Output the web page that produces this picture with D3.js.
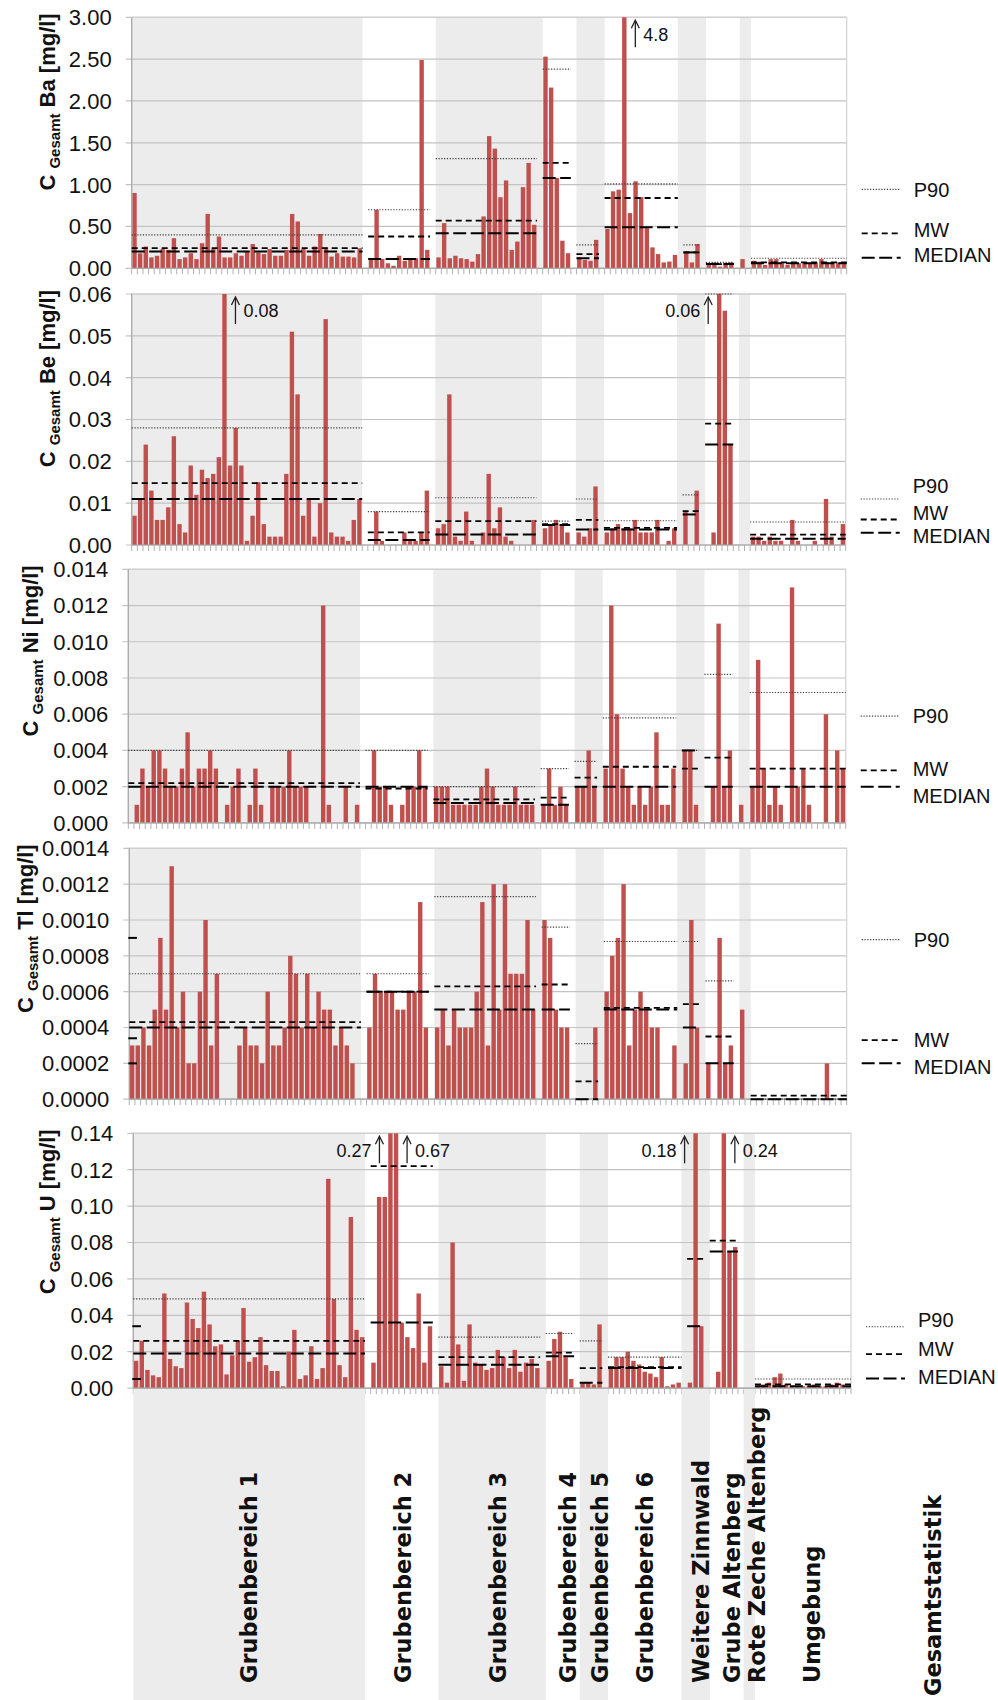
<!DOCTYPE html>
<html>
<head>
<meta charset="utf-8">
<script src="https://cdnjs.cloudflare.com/ajax/libs/d3/7.8.5/d3.min.js"></script>
<style>
  body { margin: 0; background: #fff; }
  svg { display: block; }
</style>
</head>
<body>
<svg id="chart" width="998" height="1700"></svg>
<script>
// sample slots along the x axis, grouped by mining area
const slotCount = 127;
const groupNames = ["Grubenbereich 1", "Grubenbereich 2", "Grubenbereich 3", "Grubenbereich 4", "Grubenbereich 5",
  "Grubenbereich 6", "Weitere Zinnwald", "Grube Altenberg", "Rote Zeche Altenberg", "Umgebung"];
const groupSizes = [41, 13, 19, 6, 5, 13, 5, 6, 2, 17];
const statFrom = [0, 42, 54, 73, 79, 84, 98, 102, null, 110];
const statTo = [40, 52, 71, 77, 82, 96, 100, 106, null, 126];
const overallLabel = "Gesamtstatistik";

// Ba
const baValues = [
  0.90, 0.18, 0.26, 0.13, 0.15, 0.23, 0.22, 0.36, 0.11, 0.13, 0.18, 0.11, 0.30, 0.65, 0.23, 0.38, 0.13, 0.13, 0.18, 0.15,
  0.20, 0.29, 0.19, 0.17, 0.23, 0.15, 0.15, 0.22, 0.65, 0.56, 0.23, 0.15, 0.26, 0.41, 0.25, 0.14, 0.18, 0.14, 0.14, 0.13, 0.24,
  null, 0.11, 0.70, 0.11, 0.06, 0.03, 0.15, 0.09, 0.11, 0.12, 2.49, 0.22, null,
  0.13, 0.54, 0.12, 0.15, 0.12, 0.11, 0.08, 0.17, 0.62, 1.58, 1.43, 0.85, 1.05, 0.22, 0.32, 0.97, 1.26, 0.52, null,
  2.53, 2.16, 1.08, 0.33, 0.18, null,
  0.13, 0.10, 0.09, 0.34, null,
  0.47, 0.92, 0.94, 4.8, 0.66, 1.04, 0.85, 0.48, 0.25, 0.17, 0.07, 0.08, 0.16,
  null, 0.19, 0.07, 0.29, null,
  0.06, 0.07, 0.02, 0.06, 0.07, null,
  0.11, null,
  0.09, 0.08, 0.04, 0.11, 0.11, 0.07, 0.04, 0.06, 0.06, 0.06, 0.06, 0.07, 0.11, 0.07, 0.07, 0.07, 0.05
];
const baP90 = [0.40, 0.70, 1.31, 2.38, 0.28, 1.01, 0.28, 0.07, null, 0.12];
const baMW = [0.24, 0.38, 0.57, 1.26, 0.17, 0.84, 0.19, 0.05, null, 0.07];
const baMedian = [0.20, 0.11, 0.42, 1.08, 0.12, 0.49, 0.19, 0.05, null, 0.06];
const baLegend = [0.944, 0.418, 0.127];
const baLegendText = [0.944, 0.458, 0.159];

// Be
const beValues = [
  0.007, 0.011, 0.024, 0.013, 0.006, 0.006, 0.009, 0.026, 0.005, 0.003, 0.019, 0.012, 0.018, 0.016, 0.017, 0.021, 0.08, 0.019, 0.028, 0.019,
  0.001, 0.007, 0.015, 0.005, 0.002, 0.002, 0.002, 0.017, 0.051, 0.036, 0.007, 0.011, 0.002, 0.010, 0.054, 0.003, 0.002, 0.002, 0.001, 0.006, 0.011,
  null, 0, 0.008, 0.001, 0, 0, 0, 0.003, 0.001, 0.001, 0.003, 0.013, null,
  0.004, 0.005, 0.036, 0.002, 0.001, 0.008, 0.001, 0, 0.003, 0.017, 0.004, 0.009, 0.002, 0.001, 0, 0, 0, 0.006, null,
  0.004, 0.005, 0.006, 0.005, 0.003, null,
  0.003, 0.002, 0.004, 0.014, null,
  0.003, 0.004, 0.005, 0.004, 0.004, 0.006, 0.003, 0.003, 0.003, 0.006, 0, 0.001, 0.004,
  null, 0.008, 0, 0.013, null,
  0, 0.003, 0.064, 0.056, 0.024, null,
  null, null,
  0.002, 0.002, 0.001, 0.002, 0.001, 0.001, 0, 0.006, 0.001, 0, 0, 0.001, 0, 0.011, 0.002, 0, 0.005
];
const beP90 = [0.028, 0.008, 0.0113, 0.0057, 0.011, 0.0058, 0.012, 0.06, null, 0.0055];
const beMW = [0.0148, 0.003, 0.0057, 0.005, 0.006, 0.0041, 0.0081, 0.029, null, 0.0025];
const beMedian = [0.011, 0.0012, 0.0025, 0.0048, 0.0037, 0.0037, 0.0073, 0.024, null, 0.0015];
const beLegend = [0.011, 0.0061, 0.0029];
const beLegendText = [0.0142, 0.0078, 0.0022];

// Ni
const niValues = [
  null, 0.001, 0.003, 0.002, 0.004, 0.004, 0.003, 0.002, 0.002, 0.003, 0.005, 0.002, 0.003, 0.003, 0.004, 0.003, null, 0.001, 0.002, 0.003,
  null, 0.001, 0.003, 0.001, null, 0.002, 0.002, 0.002, 0.004, 0.002, 0.002, 0.002, null, null, 0.012, 0.001, null, null, 0.002, null, 0.001,
  null, null, 0.004, 0.002, 0.002, 0.001, null, 0.001, 0.002, 0.002, 0.004, 0.002, null,
  0.002, 0.002, 0.002, 0.001, 0.001, 0.001, 0.001, 0.001, 0.002, 0.003, 0.002, 0.001, 0.001, 0.001, 0.002, 0.001, 0.001, 0.001, null,
  0.001, 0.003, 0.001, 0.002, 0.001, null,
  0.002, 0.002, 0.004, 0.002, null,
  0.003, 0.012, 0.006, 0.003, 0.002, 0.001, 0.002, 0.001, 0.002, 0.005, 0.001, 0.001, 0.003,
  null, 0.004, 0.004, 0.001, null,
  null, 0.002, 0.011, 0.002, 0.004, null,
  0.001, null,
  0.002, 0.009, 0.003, 0.001, 0.002, 0.001, null, 0.013, 0.002, 0.003, 0.001, null, null, 0.006, null, 0.004, 0.003
];
const niP90 = [0.004, 0.004, 0.002, 0.003, 0.0034, 0.0058, 0.004, 0.0082, null, 0.0072];
const niMW = [0.0022, 0.0019, 0.0013, 0.0014, 0.0025, 0.0031, 0.003, 0.0036, null, 0.003];
const niMedian = [0.002, 0.002, 0.0011, 0.001, 0.002, 0.002, 0.004, 0.002, null, 0.002];
const niLegend = [0.0059, 0.0029, 0.002];
const niLegendText = [0.0059, 0.0030, 0.0015];

// Tl
const tlValues = [
  0.0003, 0.0003, 0.0004, 0.0003, 0.0005, 0.0009, 0.0005, 0.0013, 0.0004, 0.0006, 0.0002, 0.0002, 0.0006, 0.0010, 0.0003, 0.0007, null, null, null, 0.0003,
  0.0004, 0.0003, 0.0003, 0.0002, 0.0006, 0.0003, 0.0003, 0.0004, 0.0008, 0.0007, 0.0004, 0.0007, 0.0004, 0.0006, 0.0005, 0.0005, 0.0003, 0.0004, 0.0003, 0.0002, null,
  null, 0.0004, 0.0007, 0.0006, 0.0006, 0.0006, 0.0005, 0.0005, 0.0006, 0.0006, 0.0011, 0.0004, null,
  0.0004, 0.0005, 0.0003, 0.0005, 0.0004, 0.0004, 0.0004, 0.0006, 0.0011, 0.0003, 0.0012, 0.0005, 0.0012, 0.0007, 0.0007, 0.0007, 0.0010, 0.0005, null,
  0.0010, 0.0009, 0.0005, 0.0004, 0.0004, null,
  0, 0, 0, 0.0004, null,
  0.0006, 0.0008, 0.0009, 0.0012, 0.0003, 0.0005, 0.0006, 0.0005, 0.0004, 0.0004, null, null, 0.0003,
  null, 0.0002, 0.0010, 0.0004, null,
  0.0002, null, 0.0009, 0.0002, 0.0003, null,
  0.0005, null,
  0, 0, 0, 0, 0, 0, 0, 0, 0, 0, 0, 0, 0, 0.0002, 0, 0, 0
];
const tlP90 = [0.0007, 0.0007, 0.00113, 0.00096, 0.00031, 0.00088, 0.00088, 0.00066, null, 0];
const tlMW = [0.00043, 0.0006, 0.00063, 0.00064, 0.0001, 0.00051, 0.00053, 0.00035, null, 0.00002];
const tlMedian = [0.0004, 0.0006, 0.0005, 0.0005, 0, 0.0005, 0.0004, 0.0002, null, 0];
const tlLegend = [0.00089, 0.00033, 0.0002];
const tlLegendText = [0.00089, 0.00033, 0.00018];
const tlFirstSlot = [0.0009, 0.00034, 0.0002];

// U
const uValues = [
  0.015, 0.026, 0.010, 0.007, 0.006, 0.052, 0.016, 0.012, 0.011, 0.047, 0.038, 0.033, 0.053, 0.035, 0.023, 0.024, 0.0075, 0.018, 0.026, 0.044,
  0.0145, 0.017, 0.028, 0.0126, 0.0094, 0.0094, 0.001, 0.020, 0.032, 0.005, 0.007, 0.023, 0.005, 0.011, 0.115, 0.049, 0.0126, 0.006, 0.094, 0.032, 0.028,
  null, 0.014, 0.105, 0.105, 0.27, 0.67, 0.036, 0.028, 0.022, 0.052, 0.014, 0.034, null,
  0.012, 0.003, 0.080, 0.024, 0.004, 0.035, 0.014, 0.013, 0.010, 0.011, 0.021, 0.017, 0.011, 0.021, 0.009, 0.014, 0.016, 0.011, null,
  0.015, 0.027, 0.031, 0.017, 0.005, null,
  0.003, 0.003, 0.002, 0.035, null,
  0.011, 0.017, 0.017, 0.020, 0.015, 0.013, 0.009, 0.008, 0.006, 0.017, 0.001, 0.002, 0.003,
  null, 0.003, 0.18, 0.034, null,
  null, 0.009, 0.24, 0.075, 0.0775, null,
  null, null,
  0.001, 0.002, 0.003, 0.006, 0.008, 0.002, 0.001, 0.001, 0.001, 0.001, 0.002, 0.001, 0.001, 0.002, 0.003, 0.002, 0.001
];
const uP90 = [0.049, null, 0.028, 0.03, 0.026, 0.017, null, null, null, 0.005];
const uMW = [0.026, 0.122, 0.017, 0.0195, 0.011, 0.0115, 0.071, 0.081, null, 0.002];
const uMedian = [0.019, 0.036, 0.0128, 0.0175, 0.003, 0.011, 0.034, 0.075, null, 0.001];
const uLegend = [0.0337, 0.0187, 0.0053];
const uLegendText = [0.0374, 0.0218, 0.0062];
const uFirstSlot = [0.034, 0.005];

// off-scale bars: slot, printed value, side of the arrow
const baNotes = [{ slot: 87, text: "4.8", side: 1 }];
const beNotes = [{ slot: 16, text: "0.08", side: 1 }, { slot: 104, text: "0.06", side: -1 }];
const uNotes = [{ slot: 45, text: "0.27", side: -1 }, { slot: 46, text: "0.67", side: 1 },
  { slot: 99, text: "0.18", side: -1 }, { slot: 104, text: "0.24", side: 1 }];

const legendNames = ["P90", "MW", "MEDIAN"];

const panels = [
  { el: "Ba", values: baValues, stats: [baP90, baMW, baMedian], legend: baLegend, legendText: baLegendText, notes: baNotes, first: [],
    max: 3, step: 0.5, digits: 2, top: 17.3, bottom: 268.3, left: 131.7, right: 846.7, titleX: 55 },
  { el: "Be", values: beValues, stats: [beP90, beMW, beMedian], legend: beLegend, legendText: beLegendText, notes: beNotes, first: [],
    max: 0.06, step: 0.01, digits: 2, top: 294, bottom: 545, left: 131.7, right: 845.7, titleX: 55 },
  { el: "Ni", values: niValues, stats: [niP90, niMW, niMedian], legend: niLegend, legendText: niLegendText, notes: [], first: [],
    max: 0.014, step: 0.002, digits: 3, top: 569.3, bottom: 822.9, left: 128.3, right: 845.7, titleX: 38 },
  { el: "Tl", values: tlValues, stats: [tlP90, tlMW, tlMedian], legend: tlLegend, legendText: tlLegendText, notes: [], first: tlFirstSlot,
    max: 0.0014, step: 0.0002, digits: 4, top: 848.3, bottom: 1099.2, left: 129.3, right: 846.7, titleX: 33 },
  { el: "U", values: uValues, stats: [uP90, uMW, uMedian], legend: uLegend, legendText: uLegendText, notes: uNotes, first: uFirstSlot,
    max: 0.14, step: 0.02, digits: 2, top: 1133.3, bottom: 1388.1, left: 133.3, right: 851, titleX: 55 }
];

const lineStyles = [
  { dash: "1.2 1.6", width: 1.2, color: "#3a3a3a" },
  { dash: "6 4", width: 1.8, color: "#000" },
  { dash: "13 4.5", width: 2, color: "#000" }
];

// horizontal nudge of the rotated category labels
const labelNudge = [0, 1, 6, 5, 6, 0, 5, 5, 8, 9];

let acc = 0;
const groups = groupNames.map((name, i) => {
  const g = { name, start: acc, size: groupSizes[i], shaded: i % 2 === 0, from: statFrom[i], to: statTo[i] };
  acc += groupSizes[i];
  return g;
});

const svg = d3.select("#chart");
const font = "'Liberation Sans', Arial, sans-serif";
const barColor = "#c0504d";
const shade = "#ececec";

panels.forEach((p) => {
  const g = svg.append("g");
  const x = d3.scaleBand()
    .domain(d3.range(slotCount))
    .range([p.left, p.right])
    .paddingInner(0.22)
    .paddingOuter(0.11);
  const step = x.step();
  const edge = (k) => p.left + k * step;
  const y = d3.scaleLinear().domain([0, p.max]).range([p.bottom, p.top]);
  const ticks = d3.range(0, p.max + p.step / 2, p.step);

  // group bands
  g.selectAll("rect.band")
    .data(groups.filter((d) => d.shaded))
    .join("rect")
    .attr("class", "band")
    .attr("x", (d) => edge(d.start))
    .attr("width", (d) => d.size * step)
    .attr("y", p.top)
    .attr("height", p.bottom - p.top)
    .attr("fill", shade);

  // grid
  g.selectAll("line.grid")
    .data(ticks)
    .join("line")
    .attr("x1", p.left - 6)
    .attr("x2", p.right)
    .attr("y1", (d) => y(d))
    .attr("y2", (d) => y(d))
    .attr("stroke", "#c3c3c3")
    .attr("stroke-width", 1.2);

  g.append("rect")
    .attr("x", p.left)
    .attr("y", p.top)
    .attr("width", p.right - p.left)
    .attr("height", p.bottom - p.top)
    .attr("fill", "none")
    .attr("stroke", "#d2d2d2")
    .attr("stroke-width", 1.2);

  // bars
  const bars = p.values.map((v, i) => ({ i, v })).filter((d) => d.v !== null && d.v > 0);
  g.selectAll("rect.bar")
    .data(bars)
    .join("rect")
    .attr("class", "bar")
    .attr("x", (d) => x(d.i))
    .attr("width", x.bandwidth())
    .attr("y", (d) => y(Math.min(d.v, p.max)))
    .attr("height", (d) => y(0) - y(Math.min(d.v, p.max)))
    .attr("fill", barColor);

  // axes
  g.append("line")
    .attr("x1", p.left).attr("x2", p.left)
    .attr("y1", p.top).attr("y2", p.bottom)
    .attr("stroke", "#a8a8a8").attr("stroke-width", 1.2);
  g.append("line")
    .attr("x1", p.left).attr("x2", p.right)
    .attr("y1", p.bottom).attr("y2", p.bottom)
    .attr("stroke", "#a8a8a8").attr("stroke-width", 1.2);
  g.selectAll("line.xtick")
    .data(d3.range(slotCount + 1))
    .join("line")
    .attr("x1", (k) => edge(k)).attr("x2", (k) => edge(k))
    .attr("y1", p.bottom).attr("y2", p.bottom + 6)
    .attr("stroke", "#b0b0b0").attr("stroke-width", 1);

  g.selectAll("text.ytick")
    .data(ticks)
    .join("text")
    .attr("x", p.left - 20)
    .attr("y", (d) => y(d))
    .attr("dy", "0.36em")
    .attr("text-anchor", "end")
    .attr("font-family", font)
    .attr("font-size", 22)
    .attr("fill", "#111")
    .text((d) => d.toFixed(p.digits));

  // axis title
  const ty = p.top - 4;
  const title = g.append("text")
    .attr("transform", `translate(${p.titleX},${ty}) rotate(-90)`)
    .attr("text-anchor", "end")
    .attr("font-family", font)
    .attr("font-weight", "bold")
    .attr("font-size", 22)
    .attr("fill", "#111");
  title.append("tspan").text("C ");
  title.append("tspan").attr("font-size", 15).attr("dy", 5).text("Gesamt");
  title.append("tspan").attr("dy", -5).text(` ${p.el} [mg/l]`);

  // group statistics
  p.stats.forEach((vals, s) => {
    const st = lineStyles[s];
    const segs = groups
      .map((gr, i) => ({ gr, v: vals[i] }))
      .filter((d) => d.v !== null && d.gr.from !== null && d.v <= p.max);
    g.selectAll(`line.stat${s}`)
      .data(segs)
      .join("line")
      .attr("x1", (d) => edge(d.gr.from))
      .attr("x2", (d) => edge(d.gr.to + 1))
      .attr("y1", (d) => y(d.v))
      .attr("y2", (d) => y(d.v))
      .attr("stroke", st.color)
      .attr("stroke-width", st.width)
      .attr("stroke-dasharray", st.dash);
  });

  // short marks over the first slot
  g.selectAll("line.first")
    .data(p.first)
    .join("line")
    .attr("x1", edge(0) - 1)
    .attr("x2", edge(1) + 2)
    .attr("y1", (d) => y(d))
    .attr("y2", (d) => y(d))
    .attr("stroke", "#000")
    .attr("stroke-width", 2);

  // off-scale notes
  p.notes.forEach((n) => {
    const ax = x(n.slot) + x.bandwidth() / 2 + n.side * 11;
    g.append("line")
      .attr("x1", ax).attr("x2", ax)
      .attr("y1", p.top + 30).attr("y2", p.top + 4)
      .attr("stroke", "#222").attr("stroke-width", 1.3);
    g.append("path")
      .attr("d", `M${ax - 4},${p.top + 11} L${ax},${p.top + 3} L${ax + 4},${p.top + 11}`)
      .attr("fill", "none").attr("stroke", "#222").attr("stroke-width", 1.3);
    g.append("text")
      .attr("x", ax + n.side * 8)
      .attr("y", p.top + 17)
      .attr("dy", "0.36em")
      .attr("text-anchor", n.side > 0 ? "start" : "end")
      .attr("font-family", font)
      .attr("font-size", 18)
      .attr("fill", "#111")
      .text(n.text);
  });

  // overall statistics (legend column)
  legendNames.forEach((name, s) => {
    const st = lineStyles[s];
    g.append("line")
      .attr("x1", p.right + 15).attr("x2", p.right + 54)
      .attr("y1", y(p.legend[s])).attr("y2", y(p.legend[s]))
      .attr("stroke", st.color)
      .attr("stroke-width", st.width)
      .attr("stroke-dasharray", st.dash);
    g.append("text")
      .attr("x", p.right + 67)
      .attr("y", y(p.legendText[s]))
      .attr("dy", "0.36em")
      .attr("font-family", font)
      .attr("font-size", 20)
      .attr("fill", "#111")
      .text(name);
  });
});

// category labels below the last panel
const last = panels[panels.length - 1];
const lx = d3.scaleBand().domain(d3.range(slotCount)).range([last.left, last.right]);
const lstep = lx.step();
const labelTop = last.bottom + 1;

svg.selectAll("rect.lband")
  .data(groups.filter((d) => d.shaded))
  .join("rect")
  .attr("x", (d) => last.left + d.start * lstep)
  .attr("width", (d) => d.size * lstep)
  .attr("y", labelTop)
  .attr("height", 1700 - labelTop)
  .attr("fill", shade);

const labelData = groups.map((d, i) => ({ name: d.name, cx: last.left + (d.start + d.size / 2) * lstep + labelNudge[i], y0: 1683 }));
labelData.push({ name: overallLabel, cx: last.right + 82, y0: 1696 });

svg.selectAll("text.cat")
  .data(labelData)
  .join("text")
  .attr("class", "cat")
  .attr("transform", (d) => `translate(${d.cx},${d.y0}) rotate(-90)`)
  .attr("dy", "0.36em")
  .attr("font-family", "'DejaVu Sans', sans-serif")
  .attr("font-weight", "bold")
  .attr("font-size", 22.5)
  .attr("fill", "#111")
  .text((d) => d.name);
</script>
</body>
</html>
